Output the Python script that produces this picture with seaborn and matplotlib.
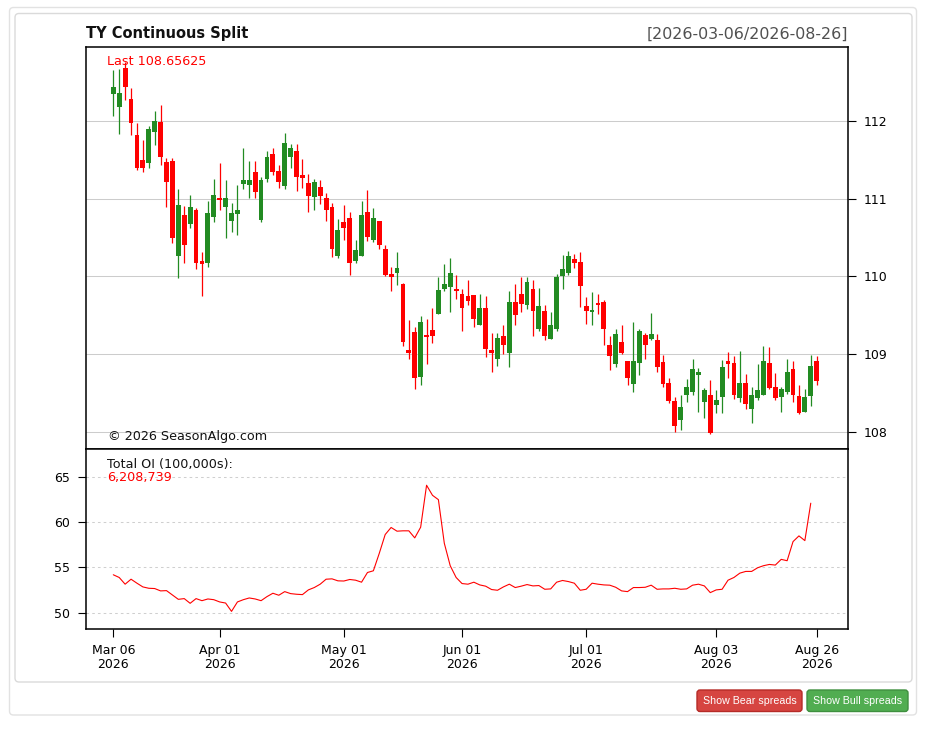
import numpy as np
import pandas as pd
import matplotlib
matplotlib.use("Agg")
import matplotlib.pyplot as plt
from matplotlib.patches import FancyBboxPatch
import seaborn as sns

# ---------------- data ----------------
START_DATE = "2026-03-06"
END_DATE = "2026-08-26"
HOLIDAYS = ["2026-04-03", "2026-05-25", "2026-06-19", "2026-07-03"]

OPEN = [112.35, 112.18, 112.68, 112.28, 111.82, 111.50, 111.46, 111.86, 111.99, 111.47,
        111.49, 110.27, 110.79, 110.67, 110.86, 110.20, 110.17, 110.76, 111.01, 110.90,
        110.71, 110.81, 111.19, 111.18, 111.34, 110.73, 111.25, 111.58, 111.36, 111.17,
        111.54, 111.61, 111.29, 111.20, 111.02, 111.15, 111.01, 110.89, 110.27, 110.70,
        110.75, 110.20, 110.27, 110.83, 110.47, 110.71, 110.35, 110.03, 110.05, 109.90,
        109.06, 109.28, 108.71, 109.25, 109.31, 109.52, 109.84, 109.87, 109.83, 109.78,
        109.75, 109.76, 109.38, 109.60, 109.04, 108.94, 109.24, 109.01, 109.67, 109.78,
        109.63, 109.84, 109.33, 109.56, 109.20, 109.32, 110.01, 110.05, 110.23, 110.19,
        109.62, 109.54, 109.66, 109.67, 109.12, 108.88, 109.16, 108.91, 108.62, 108.89,
        109.25, 109.19, 109.18, 108.90, 108.63, 108.40, 108.15, 108.48, 108.51, 108.73,
        108.38, 108.48, 108.35, 108.45, 108.91, 108.89, 108.44, 108.63, 108.30, 108.44,
        108.48, 108.89, 108.58, 108.45, 108.52, 108.81, 108.46, 108.26, 108.46, 108.91]
HIGH = [112.66, 112.67, 112.76, 112.43, 111.98, 111.76, 111.93, 112.13, 112.21, 111.53,
        111.53, 111.13, 110.91, 111.05, 110.88, 110.32, 110.97, 111.26, 111.46, 111.24,
        110.95, 111.18, 111.65, 111.48, 111.48, 111.28, 111.61, 111.65, 111.43, 111.85,
        111.70, 111.70, 111.51, 111.32, 111.26, 111.24, 111.07, 110.95, 110.74, 110.92,
        110.83, 110.47, 110.97, 111.11, 110.88, 110.71, 110.40, 110.12, 110.31, 109.91,
        109.44, 109.35, 109.49, 109.45, 109.60, 109.99, 110.16, 110.24, 110.02, 109.84,
        109.96, 109.76, 109.78, 109.75, 109.27, 109.27, 109.37, 109.81, 109.90, 109.99,
        109.99, 109.95, 109.85, 109.63, 109.54, 110.03, 110.28, 110.33, 110.29, 110.31,
        109.73, 109.80, 109.78, 109.70, 109.23, 109.32, 109.37, 108.91, 109.41, 109.33,
        109.27, 109.53, 109.26, 108.99, 108.69, 108.45, 108.47, 108.68, 108.94, 108.82,
        108.57, 108.67, 108.54, 108.92, 109.03, 108.98, 109.04, 108.74, 108.58, 108.88,
        109.11, 109.09, 108.76, 108.58, 108.94, 108.91, 108.61, 108.55, 108.99, 108.98]
LOW = [112.06, 111.83, 112.27, 111.82, 111.37, 111.34, 111.39, 111.69, 111.43, 110.89,
       110.43, 109.98, 110.17, 110.63, 110.10, 109.75, 110.12, 110.70, 110.86, 110.49,
       110.57, 110.54, 111.13, 111.01, 111.01, 110.70, 111.21, 111.30, 111.14, 111.12,
       111.39, 111.10, 111.14, 110.83, 110.85, 110.93, 110.71, 110.25, 110.24, 110.47,
       110.02, 110.17, 110.26, 110.46, 110.45, 110.35, 110.00, 109.81, 109.89, 109.10,
       108.94, 108.55, 108.60, 108.88, 109.15, 109.52, 109.81, 109.54, 109.71, 109.30,
       109.63, 109.35, 109.38, 108.96, 108.77, 108.85, 109.00, 108.83, 109.38, 109.54,
       109.58, 109.23, 109.30, 109.18, 109.20, 109.30, 109.84, 110.02, 110.11, 109.61,
       109.39, 109.38, 109.52, 109.12, 108.80, 108.83, 109.00, 108.60, 108.52, 108.73,
       108.94, 109.18, 108.77, 108.58, 108.37, 108.00, 108.02, 108.38, 108.47, 108.26,
       108.18, 107.97, 108.25, 108.25, 108.69, 108.43, 108.39, 108.29, 108.11, 108.41,
       108.47, 108.55, 108.41, 108.26, 108.49, 108.39, 108.23, 108.26, 108.33, 108.60]
CLOSE = [112.44, 112.36, 112.44, 111.98, 111.40, 111.40, 111.90, 112.00, 111.54, 111.21,
         110.49, 110.92, 110.41, 110.89, 110.17, 110.16, 110.82, 111.05, 110.98, 111.01,
         110.82, 110.86, 111.24, 111.24, 111.09, 111.24, 111.54, 111.35, 111.21, 111.72,
         111.65, 111.28, 111.27, 111.04, 111.22, 111.03, 110.85, 110.35, 110.60, 110.63,
         110.17, 110.34, 110.79, 110.51, 110.75, 110.40, 110.02, 109.99, 110.11, 109.16,
         109.01, 108.69, 109.41, 109.22, 109.24, 109.83, 109.90, 110.05, 109.81, 109.60,
         109.69, 109.45, 109.60, 109.07, 109.02, 109.21, 109.12, 109.67, 109.51, 109.65,
         109.93, 109.55, 109.62, 109.23, 109.38, 109.99, 110.10, 110.26, 110.18, 109.88,
         109.56, 109.57, 109.63, 109.32, 108.98, 109.26, 109.02, 108.69, 108.91, 109.30,
         109.12, 109.26, 108.84, 108.62, 108.40, 108.08, 108.32, 108.58, 108.81, 108.77,
         108.54, 107.99, 108.41, 108.84, 108.88, 108.48, 108.63, 108.36, 108.48, 108.54,
         108.91, 108.57, 108.44, 108.55, 108.77, 108.48, 108.24, 108.45, 108.85, 108.66]

# Total open interest in 100,000s (last day not yet reported)
OPEN_INTEREST = [54.19, 53.89, 53.15, 53.70, 53.26, 52.85, 52.70, 52.67, 52.41, 52.44,
                 51.96, 51.48, 51.56, 51.04, 51.56, 51.33, 51.52, 51.44, 51.19, 51.07,
                 50.15, 51.19, 51.44, 51.63, 51.52, 51.33, 51.78, 52.15, 51.93, 52.33,
                 52.11, 52.04, 52.00, 52.52, 52.78, 53.15, 53.70, 53.74, 53.52, 53.50,
                 53.67, 53.59, 53.37, 54.44, 54.63, 56.56, 58.63, 59.41, 59.00, 59.04,
                 59.04, 58.26, 59.44, 64.07, 62.96, 62.48, 57.67, 55.19, 53.89, 53.22,
                 53.15, 53.37, 53.07, 52.93, 52.56, 52.48, 52.85, 53.15, 52.78, 52.93,
                 53.11, 52.96, 53.00, 52.59, 52.63, 53.37, 53.56, 53.44, 53.26, 52.48,
                 52.59, 53.26, 53.15, 53.07, 53.04, 52.81, 52.41, 52.33, 52.78, 52.78,
                 52.81, 53.04, 52.59, 52.63, 52.63, 52.70, 52.59, 52.63, 53.04, 53.15,
                 52.96, 52.22, 52.52, 52.59, 53.59, 53.89, 54.37, 54.56, 54.56, 54.96,
                 55.19, 55.33, 55.26, 55.89, 55.74, 57.85, 58.48, 57.96, 62.09]

TICK_DATES = ["2026-03-06", "2026-04-01", "2026-05-01", "2026-06-01",
              "2026-07-01", "2026-08-03", "2026-08-26"]
TICK_LABELS = ["Mar 06\n2026", "Apr 01\n2026", "May 01\n2026", "Jun 01\n2026",
               "Jul 01\n2026", "Aug 03\n2026", "Aug 26\n2026"]
PRICE_TICKS = [108, 109, 110, 111, 112]
OI_TICKS = [50, 55, 60, 65]

TITLE = "TY Continuous Split"
RANGE_TEXT = "[2026-03-06/2026-08-26]"
LAST_TEXT = "Last 108.65625"
OI_TITLE = "Total OI (100,000s):"
OI_LAST = "6,208,739"
COPYRIGHT = "© 2026 SeasonAlgo.com"

# ---------------- build frame ----------------
days = pd.bdate_range(START_DATE, END_DATE)
days = days[~days.isin(pd.to_datetime(HOLIDAYS))]
df = pd.DataFrame({"date": days[:len(OPEN)], "open": OPEN, "high": HIGH,
                   "low": LOW, "close": CLOSE})
df["idx"] = np.arange(len(df))
df["up"] = df["close"] >= df["open"]
oi = pd.DataFrame({"idx": np.arange(len(OPEN_INTEREST)), "oi": OPEN_INTEREST})
date_to_idx = {d.strftime("%Y-%m-%d"): i for i, d in enumerate(df["date"])}
tick_pos = [date_to_idx[d] for d in TICK_DATES]

# ---------------- style ----------------
sns.set_style("white")
plt.rcParams["font.family"] = ["DejaVu Sans"]

W, H = 942, 736
fig = plt.figure(figsize=(W / 100, H / 100), dpi=100)
fig.patch.set_facecolor("white")

def fx(px):
    return px / W

def fy(py):
    return 1 - py / H

def box(x0, y0, x1, y1, fc, ec, r, lw=1.0, z=-10):
    p = FancyBboxPatch((x0 / 100, (H - y1) / 100), (x1 - x0) / 100, (y1 - y0) / 100,
                       boxstyle=f"round,pad=0,rounding_size={r / 100}",
                       transform=fig.dpi_scale_trans, facecolor=fc, edgecolor=ec,
                       linewidth=lw, zorder=z)
    fig.patches.append(p)

box(9.5, 7.5, 916.5, 715, "white", "#e2e2e2", 4, z=-20)
box(15, 13.5, 912, 682, "white", "#dadada", 4, z=-19)

LEFT, RIGHT = 85.7, 848.3
TOP, MID, BOT = 46.7, 449, 628.5
ax1 = fig.add_axes([fx(LEFT), fy(MID), fx(RIGHT) - fx(LEFT), (MID - TOP) / H])
ax2 = fig.add_axes([fx(LEFT), fy(BOT), fx(RIGHT) - fx(LEFT), (BOT - MID) / H])
ax1.set_zorder(5)
ax2.set_zorder(5)
XLIM = (-4.67, 124.35)

GREEN = "#228b22"
RED = "#ff0000"
colors = np.where(df["up"], GREEN, RED)

# candlesticks
ax1.vlines(df["idx"], df["low"], df["high"], colors=colors, linewidth=0.9, zorder=3)
body_bottom = np.minimum(df["open"], df["close"])
body_height = np.maximum((df["close"] - df["open"]).abs(), 0.03)
ax1.bar(df["idx"], body_height, bottom=body_bottom, width=0.82, color=colors,
        linewidth=0, zorder=4)
ax1.set_xlim(*XLIM)
ax1.set_ylim(107.781, 112.956)
ax1.yaxis.tick_right()
ax1.set_yticks(PRICE_TICKS)
ax1.set_yticklabels([str(t) for t in PRICE_TICKS])
ax1.tick_params(axis="y", right=True, left=False, length=5.5, width=0.8,
                pad=5.5, labelsize=9, colors="black")
ax1.set_xticks([])
ax1.grid(axis="y", color="#cccccc", linewidth=0.75, zorder=0)
ax1.set_axisbelow(True)
for s in ax1.spines.values():
    s.set_color("black")
    s.set_linewidth(1.1)

# open interest
sns.lineplot(data=oi, x="idx", y="oi", ax=ax2, color=RED, linewidth=0.8, zorder=3)
ax2.set_xlim(*XLIM)
ax2.set_ylim(48.26, 68.07)
ax2.set_yticks(OI_TICKS)
ax2.set_yticklabels([str(t) for t in OI_TICKS])
ax2.set_xticks(tick_pos)
ax2.set_xticklabels(TICK_LABELS)
for lab in ax2.get_xticklabels():
    lab.set_linespacing(1.1)
ax2.tick_params(axis="y", left=True, length=5.5, width=0.8, pad=6, labelsize=9,
                colors="black")
ax2.tick_params(axis="x", bottom=True, length=5.5, width=0.8, pad=6, labelsize=9,
                colors="black")
ax2.set_xlabel("")
ax2.set_ylabel("")
ax2.grid(axis="y", color="#cfcfcf", linewidth=0.75, linestyle=(0, (2.5, 3)), zorder=0)
ax2.set_axisbelow(True)
for s in ax2.spines.values():
    s.set_color("black")
    s.set_linewidth(1.1)

# texts
fig.text(fx(86), fy(38.3), TITLE, fontsize=10.5, fontweight="bold", color="#111111",
         va="baseline", ha="left")
fig.text(fx(848.3), fy(38.3), RANGE_TEXT, fontsize=11.4, color="#505050",
         va="baseline", ha="right")
fig.text(fx(107), fy(65), LAST_TEXT, fontsize=9.2, color=RED, va="baseline", ha="left",
         zorder=10)
fig.text(fx(108), fy(440), COPYRIGHT, fontsize=9.2, color="#111111", va="baseline",
         ha="left", zorder=10)
fig.text(fx(107), fy(468), OI_TITLE, fontsize=9.2, color="#111111", va="baseline",
         ha="left", zorder=10)
fig.text(fx(107), fy(481), OI_LAST, fontsize=9.2, color=RED, va="baseline", ha="left",
         zorder=10)

# buttons
box(697, 690, 802, 711.5, "#d64541", "#b52b27", 3, z=1)
box(807, 690, 908, 711.5, "#51ad51", "#3f8f3f", 3, z=1)
fig.text(fx(749.5), fy(701), "Show Bear spreads", fontsize=7.7, color="white",
         family=["Liberation Sans", "DejaVu Sans"], ha="center", va="center", zorder=10)
fig.text(fx(857.5), fy(701), "Show Bull spreads", fontsize=7.7, color="white",
         family=["Liberation Sans", "DejaVu Sans"], ha="center", va="center", zorder=10)

fig.savefig("out.png", dpi=100, facecolor="white")
